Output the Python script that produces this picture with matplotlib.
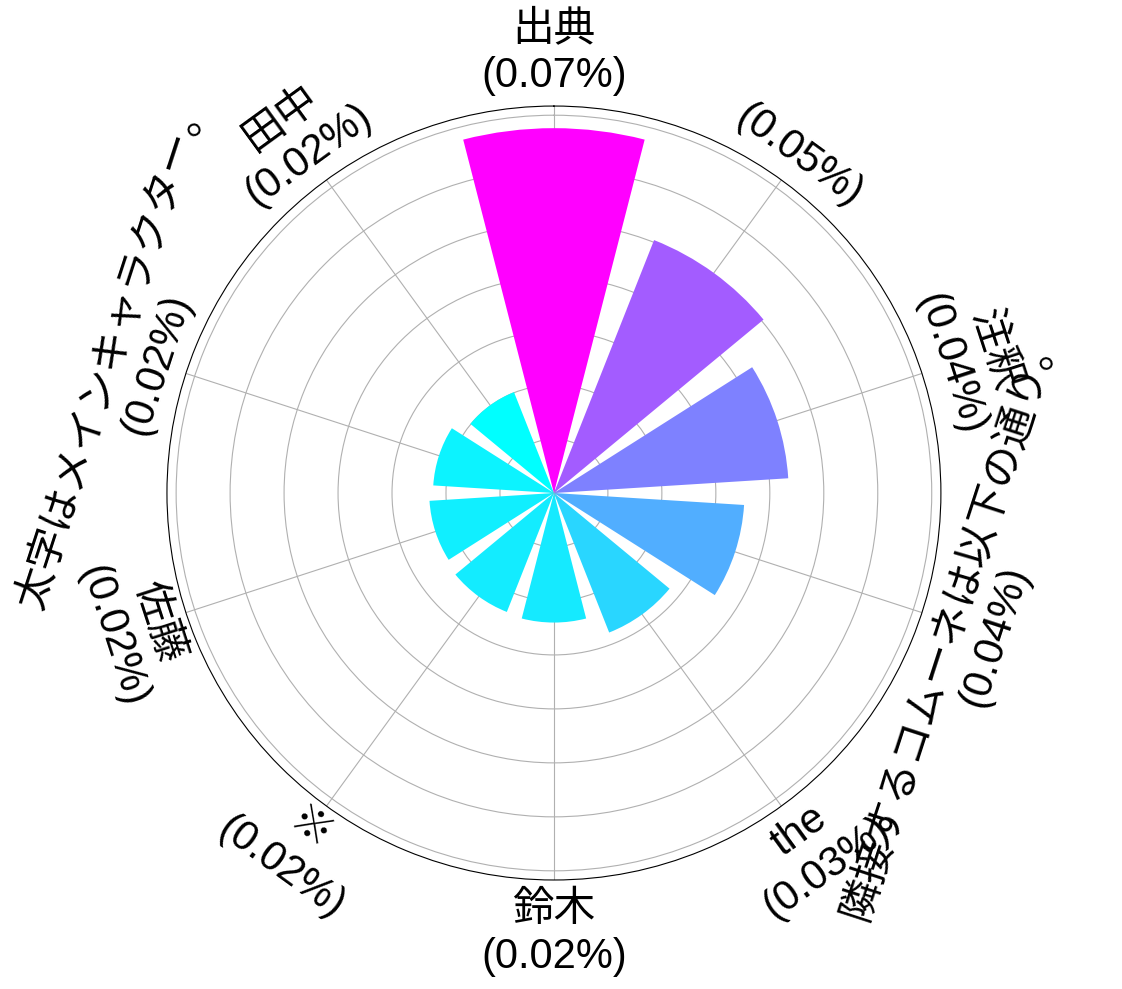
import matplotlib
matplotlib.use('Agg')
import matplotlib.pyplot as plt
import numpy as np

plt.rcParams['font.family'] = ['Liberation Sans', 'Noto Sans CJK JP', 'DejaVu Sans']

# categories and their share (in %)
names = ['出典', '', '注釈', '隣接するコムーネは以下の通り。', 'the',
         '鈴木', '※', '佐藤', '太字はメインキャラクター。', '田中']
shares = [0.0676, 0.0504, 0.0435, 0.0353, 0.0278,
          0.0240, 0.0237, 0.0231, 0.0224, 0.0201]
rticks = [0.01, 0.02, 0.03, 0.04, 0.05, 0.06, 0.07]

n = len(names)
angles = np.arange(n) * 2 * np.pi / n
width = 2 * np.pi / n * 0.8

norm = plt.Normalize(min(shares), max(shares))
colors = plt.cm.cool(norm(shares))

fig = plt.figure(figsize=(11.22, 9.89), dpi=100)
ax = fig.add_axes([0.1488, 0.1102, 0.6898, 0.7826], projection='polar')
ax.set_theta_zero_location('N')
ax.set_theta_direction(-1)
ax.set_axisbelow(True)

ax.bar(angles, shares, width=width, color=colors, bottom=0)

ax.set_ylim(0, 0.0717)
ax.set_yticks(rticks)
ax.set_yticklabels([])
ax.set_xticks(angles)
ax.set_xticklabels([f'{nm}\n({v:.2f}%)' for nm, v in zip(names, shares)], fontsize=30)
ax.tick_params(axis='x', labelrotation='auto', pad=28)

fig.savefig('out.png', dpi=100)
